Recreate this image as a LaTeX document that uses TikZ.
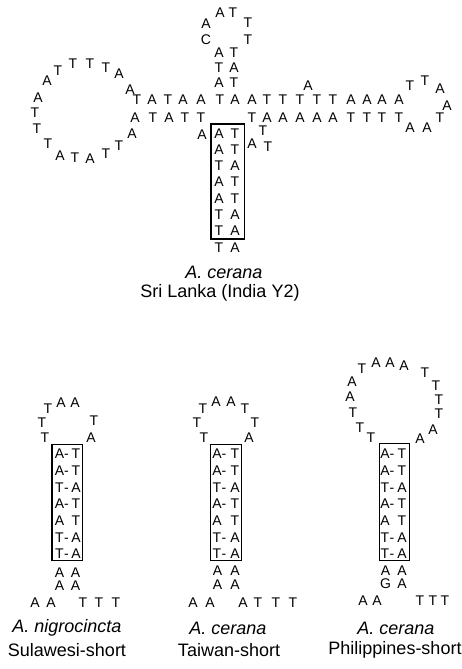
\documentclass[tikz,border=0pt]{standalone}
\usepackage{fontspec}
\setmainfont{Liberation Sans}
\begin{document}
\begin{tikzpicture}[x=1pt,y=-1pt,
  nt/.style={font=\fontsize{14}{14}\selectfont, inner sep=0pt, anchor=center, text height=10pt, text depth=0pt},
  lbl/.style={font=\fontsize{18}{18}\selectfont, inner sep=0pt, anchor=center},
  spc/.style={lbl, font=\fontsize{18}{18}\selectfont\itshape},
  stembox/.style={draw, line width=1.1pt, inner sep=0pt, minimum width=30.5pt, minimum height=116.5pt}]
\useasboundingbox (0,0) rectangle (462,669);
% ---------------- top structure ----------------
% hairpin loop on top
\foreach \x/\y/\c [count=\i] in {206/24/A,220/13/A,233/13/T,248/23/T,248/40/T,206/40/C}
  \node[nt] (tl\i) at (\x,\y) {\c};
% top stem
\foreach \y/\l/\r [count=\i] in {52/A/T,67/T/A,82/A/T}
  {\node[nt] (tsL\i) at (219,\y) {\l}; \node[nt] (tsR\i) at (234,\y) {\r};}
% upper row
\foreach \x/\c [count=\i] in {137/T,152/A,168/T,183/A,201/A,220/T,235/A,252/A,267/T,283/T,300/T,317/T,333/T,351/A,367/A,382/A,399/A}
  \node[nt] (u\i) at (\x,99) {\c};
\node[nt] (ub) at (308,85) {A};
% lower row
\foreach \x/\c [count=\i] in {135/A,153/T,169/A,185/T,201/T}
  \node[nt] (wl\i) at (\x,117) {\c};
\foreach \x/\c [count=\i] in {252/T,267/A,283/A,300/A,317/A,333/A,351/T,367/T,382/T,399/T}
  \node[nt] (wr\i) at (\x,117) {\c};
% internal loop letters
\node[nt] (ia1) at (263,130) {T};
\node[nt] (ia2) at (252,143) {A};
\node[nt] (ia3) at (268,146) {T};
\node[nt] (ib1) at (202,134) {A};
% left loop
\foreach \x/\y/\c [count=\i] in {130/89/A,119/73/A,106/68/T,90/63/T,73/63/T,58/70/T,47/80/A,38/97/A,35/112/T,37/128/T,48/143/T,60/155/A,75/157/T,90/158/A,106/153/T,119/145/T,132/133/A}
  \node[nt] (ll\i) at (\x,\y) {\c};
% right loop
\foreach \x/\y/\c [count=\i] in {410/85/T,425/80/T,440/88/A,447/105/A,440/117/T,427/127/A,410/127/A}
  \node[nt] (rl\i) at (\x,\y) {\c};
% boxed stem
\node[stembox, minimum width=33.3pt, minimum height=115pt] (box0) at (227.6,181.5) {};
\foreach \y/\l/\r [count=\i] in {133/A/T,149/A/T,165/T/A,181/A/T,198/A/T,214/T/A,230/T/A}
  {\node[nt] (bL\i) at (219,\y) {\l}; \node[nt] (bR\i) at (235,\y) {\r};}
\node[nt] (bt1) at (219,247) {T};
\node[nt] (bt2) at (235,247) {A};
\node[spc] (lab0a) at (224,272) {A. cerana};
\node[lbl] (lab0b) at (220,293) {Sri Lanka (India Y2)};
% ---------------- Sulawesi ----------------
\foreach \x/\y/\c [count=\i] in {45/437/T,42/422/T,48/408/T,61/402/A,75/402/A,94/420/T,91/437/A}
  \node[nt] (sl\i) at (\x,\y) {\c};
\node[stembox] (box1) at (67.2,502.5) {};
\foreach \y/\l/\d/\r [count=\i] in {453/A/-/T,470/A/-/T,487/T/-/A,503/A/-/T,520/A/{}/T,537/T/-/A,553/T/-/A}
  {\node[nt] (sL\i) at (59.5,\y) {\l}; \node[nt] (sD\i) at (66.5,\y) {\d}; \node[nt] (sR\i) at (76,\y) {\r};}
\foreach \y/\l/\r [count=\i] in {572/A/A,585/A/A}
  {\node[nt] (sbL\i) at (59.5,\y) {\l}; \node[nt] (sbR\i) at (75.5,\y) {\r};}
\foreach \x/\c [count=\i] in {35/A,51/A,83/T,99/T,116/T}
  \node[nt] (sr\i) at (\x,602) {\c};
\node[spc] (lab1a) at (67,628) {A. nigrocincta};
\node[lbl] (lab1b) at (67,650) {Sulawesi-short};
% ---------------- Taiwan ----------------
\foreach \x/\y/\c [count=\i] in {204/437/T,197/422/T,203/408/T,216/401/A,231/401/A,245/408/T,255/422/T,249/437/A}
  \node[nt] (tw\i) at (\x,\y) {\c};
\node[stembox] (box2) at (226,502.5) {};
\foreach \y/\l/\d/\r [count=\i] in {453/A/-/T,470/A/-/T,487/T/-/A,503/A/-/T,520/A/{}/T,537/T/-/A,553/T/-/A}
  {\node[nt] (tL\i) at (217,\y) {\l}; \node[nt] (tD\i) at (224,\y) {\d}; \node[nt] (tR\i) at (235,\y) {\r};}
\foreach \y/\l/\r [count=\i] in {570/A/A,584/A/A}
  {\node[nt] (tbL\i) at (217.5,\y) {\l}; \node[nt] (tbR\i) at (235,\y) {\r};}
\foreach \x/\c [count=\i] in {193/A,210/A,243/A,258/T,276/T,293/T}
  \node[nt] (tr\i) at (\x,602) {\c};
\node[spc] (lab2a) at (228,628) {A. cerana};
\node[lbl] (lab2b) at (229,650) {Taiwan-short};
% ---------------- Philippines ----------------
\foreach \x/\y/\c [count=\i] in {371/437/T,360/427/T,353/412/T,350/396/A,352/381/A,362/368/T,376/362/A,390/362/A,404/365/A,425/372/T,436/385/T,439/399/T,439/413/T,433/429/A,420/438/A}
  \node[nt] (ph\i) at (\x,\y) {\c};
\node[stembox] (box3) at (394.3,502) {};
\foreach \y/\l/\d/\r [count=\i] in {453/A/-/T,470/A/-/T,487/T/-/A,503/A/-/T,520/A/{}/T,537/T/-/A,553/T/-/A}
  {\node[nt] (pL\i) at (385,\y) {\l}; \node[nt] (pD\i) at (392,\y) {\d}; \node[nt] (pR\i) at (402,\y) {\r};}
\foreach \y/\l/\r [count=\i] in {570/A/A,583/G/A}
  {\node[nt] (pbL\i) at (385.5,\y) {\l}; \node[nt] (pbR\i) at (402,\y) {\r};}
\foreach \x/\c [count=\i] in {363/A,377/A,420/T,433/T,445/T}
  \node[nt] (pr\i) at (\x,600) {\c};
\node[spc] (lab3a) at (396,628) {A. cerana};
\node[lbl] (lab3b) at (395,650) {Philippines-short};
\end{tikzpicture}
\end{document}
